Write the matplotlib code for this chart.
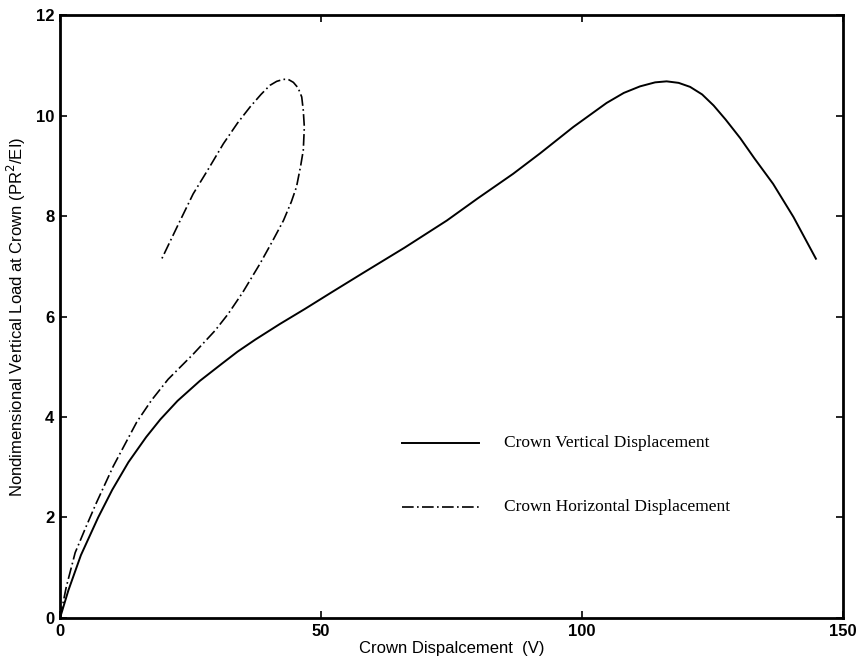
import numpy as np
import matplotlib
matplotlib.use('Agg')
import matplotlib.pyplot as plt

# crown vertical displacement (solid)
v_x = [0, 1.6, 4.0, 7.3, 10.0, 13.1, 16.5, 19.2, 22.5, 26.8, 31.0, 34.0, 37.4,
       42.1, 46.9, 52.0, 58.1, 66.0, 74.1, 80.0, 86.8, 92.0, 98.3, 104.7,
       108.0, 111.1, 114.0, 116.2, 118.5, 120.7, 123.0, 125.2, 127.5, 130.3,
       133.0, 136.6, 140.5, 144.8]
v_y = [0, 0.55, 1.25, 2.0, 2.55, 3.1, 3.6, 3.95, 4.32, 4.72, 5.06, 5.3, 5.54,
       5.85, 6.15, 6.48, 6.87, 7.37, 7.91, 8.35, 8.84, 9.25, 9.77, 10.25,
       10.45, 10.58, 10.66, 10.68, 10.65, 10.57, 10.42, 10.2, 9.92, 9.55,
       9.15, 8.64, 7.98, 7.15]

# crown horizontal displacement (dash-dot)
h_x = [0, 1.2, 2.9, 5.0, 7.0, 10.2, 14.7, 17.5, 20.7, 25.5, 29.7, 32.2, 35.0,
       38.3, 40.7, 42.8, 44.3, 45.3, 46.1, 46.6, 46.8, 46.6, 46.3, 45.6, 44.7,
       43.7, 42.8, 41.5, 40.2, 38.5, 36.4, 34.0, 31.3, 28.5, 25.5, 22.5, 19.5]
h_y = [0, 0.62, 1.3, 1.82, 2.3, 3.02, 3.9, 4.33, 4.75, 5.25, 5.72, 6.05, 6.48,
       7.05, 7.5, 7.91, 8.28, 8.58, 9.0, 9.31, 9.77, 10.1, 10.37, 10.55,
       10.66, 10.72, 10.72, 10.68, 10.6, 10.42, 10.17, 9.85, 9.44, 8.95,
       8.44, 7.8, 7.15]

plt.rcParams['font.family'] = ['Liberation Sans', 'DejaVu Sans']

fig = plt.figure(figsize=(8.6, 6.62), dpi=100)
ax = fig.add_axes([0.0698, 0.0665, 0.9105, 0.9108])

ax.plot(v_x, v_y, color='black', lw=1.4, solid_joinstyle='round')
ax.plot(h_x, h_y, color='black', lw=1.2, dashes=(7, 2, 1, 2),
        dash_joinstyle='round')

# legend drawn as in the original, inside the axes
ax.plot([65.6, 80.3], [3.49, 3.49], color='black', lw=1.4)
ax.plot([65.6, 80.3], [2.2, 2.2], color='black', lw=1.2, dashes=(7, 2, 1, 2))
ax.text(85, 3.49, 'Crown Vertical Displacement', family='Liberation Serif',
        fontsize=12.5, va='center')
ax.text(85, 2.2, 'Crown Horizontal Displacement', family='Liberation Serif',
        fontsize=12.5, va='center')

ax.set_xlim(0, 150)
ax.set_ylim(0, 12)
ax.set_xticks([0, 50, 100, 150])
ax.set_yticks([0, 2, 4, 6, 8, 10, 12])
ax.tick_params(direction='in', length=5, width=1.2, top=True, right=True,
               labelsize=12, pad=4)
for lab in ax.get_xticklabels() + ax.get_yticklabels():
    lab.set_fontweight('bold')
for s in ax.spines.values():
    s.set_linewidth(2)

ax.set_xlabel('Crown Dispalcement  (V)', fontsize=12, labelpad=2)
ax.set_ylabel('Nondimensional Vertical Load at Crown (PR$^2$/EI)', fontsize=12,
              labelpad=6)

fig.savefig('out.png', dpi=100)
